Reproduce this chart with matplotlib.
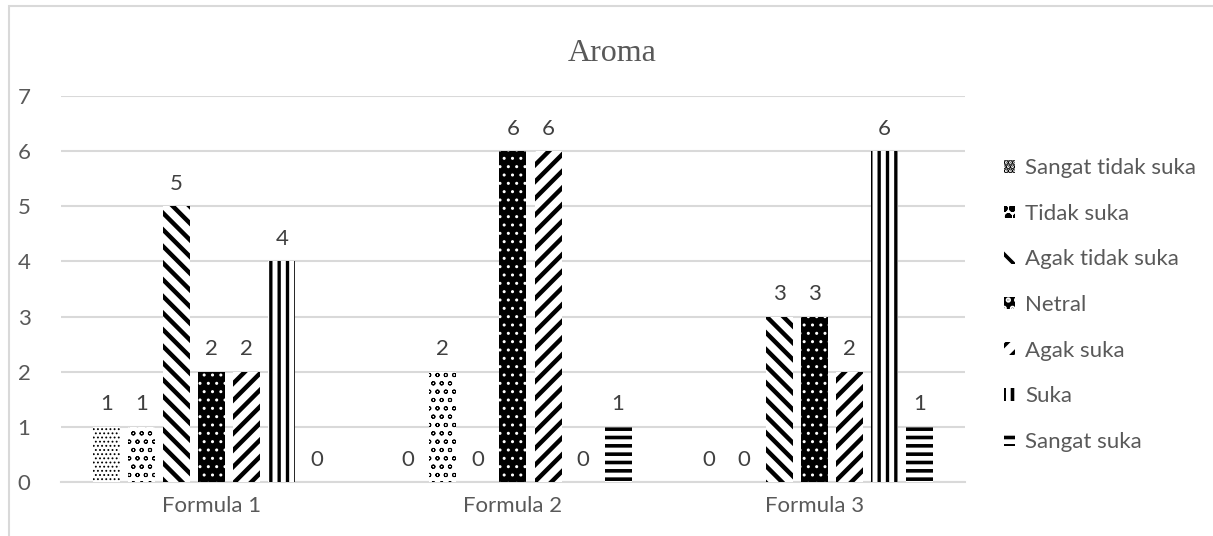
import matplotlib.pyplot as plt
import matplotlib.patches as mpatches
import numpy as np

plt.rcParams['font.family'] = ['Lato', 'DejaVu Sans']

# Data
formulas = ["Formula 1", "Formula 2", "Formula 3"]
responses = ["Sangat tidak suka", "Tidak suka", "Agak tidak suka", "Netral",
             "Agak suka", "Suka", "Sangat suka"]
sangat_tidak_suka = [1, 0, 0]
tidak_suka = [1, 2, 0]
agak_tidak_suka = [5, 0, 3]
netral = [2, 6, 3]
agak_suka = [2, 6, 2]
suka = [4, 0, 6]
sangat_suka = [0, 1, 1]
series = [sangat_tidak_suka, tidak_suka, agak_tidak_suka, netral,
          agak_suka, suka, sangat_suka]

# (facecolor, hatch colour, hatch, hatch linewidth)
styles = [
    ("white", "black", "....", 0.8),
    ("white", "black", "oo", 0.7),
    ("white", "black", "\\\\", 3.2),
    ("black", "white", "..", 1.0),
    ("white", "black", "//", 3.2),
    ("white", "black", "||", 2.4),
    ("white", "black", "--", 2.6),
]

grey = "#595959"
fig = plt.figure(figsize=(12.13, 5.36), dpi=100)
ax = fig.add_axes([0.0503, 0.1007, 0.7452, 0.7201])

x = np.arange(len(formulas))
step = 0.1163
width = 0.0897
for i, (vals, (fc, hc, hatch, hlw)) in enumerate(zip(series, styles)):
    pos = x + (i - 3) * step
    plt.rcParams['hatch.linewidth'] = hlw
    bars = ax.bar(pos, vals, width, color=fc, edgecolor=hc, hatch=hatch,
                  linewidth=0, label=responses[i], zorder=3)
    for b in bars:
        if hasattr(b, "set_hatch_linewidth"):
            b.set_hatch_linewidth(hlw)
    ax.bar_label(bars, padding=9, fontsize=16, color="#404040")

ax.set_xlim(-0.5, 2.5)
ax.set_ylim(0, 7)
ax.set_yticks(range(8))
ax.set_xticks(x)
ax.set_xticklabels(formulas)
ax.tick_params(axis='both', length=0, labelsize=16, labelcolor=grey)
ax.tick_params(axis='y', pad=22)
ax.tick_params(axis='x', pad=10)
ax.grid(axis='y', color="#d9d9d9", linewidth=1.5, zorder=0)
for side in ["left", "right", "top"]:
    ax.spines[side].set_visible(False)
ax.spines["bottom"].set_color("#d9d9d9")
ax.spines["bottom"].set_linewidth(1.5)

fig.text(0.505, 0.900, "Aroma", fontsize=23, color=grey,
         family="Liberation Serif", ha="center", va="center")

leg = fig.legend(loc="center left", bbox_to_anchor=(0.828, 0.431),
                 frameon=False, fontsize=16, labelcolor=grey,
                 handlelength=0.5, handleheight=0.5, handletextpad=0.45,
                 labelspacing=1.15, borderpad=0, borderaxespad=0)

# chart border
fig.patches.append(mpatches.Rectangle((9 / 1213, -0.05), 1.1, 0.9888 + 0.05,
                                      transform=fig.transFigure, fill=False,
                                      edgecolor="#d9d9d9", linewidth=1.5))

fig.savefig("out.png", dpi=100)
